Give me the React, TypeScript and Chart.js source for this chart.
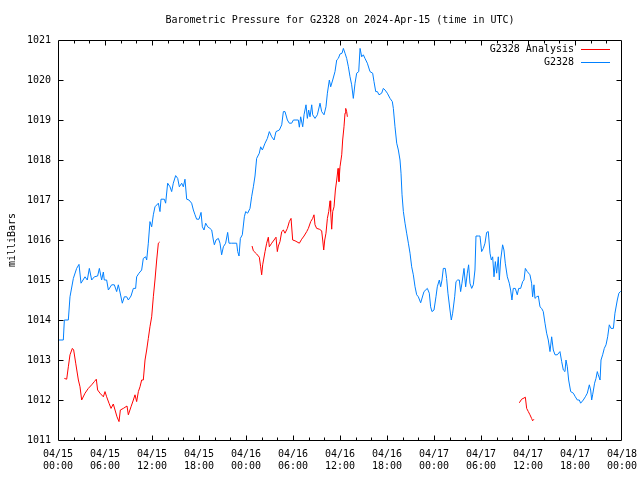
import React, { useEffect, useRef } from "react";
import { Chart, registerables } from "chart.js";

Chart.register(...registerables);

const TITLE = "Barometric Pressure for G2328 on 2024-Apr-15 (time in UTC)";
const Y_LABEL = "milliBars";
const SERIES_NAMES = ["G2328 Analysis", "G2328"];
const SERIES_COLORS = ["#ff0000", "#0080ff"];

// x tick labels (every 6 hours, 0..72 h from 2024-04-15 00:00 UTC)
const X_TICK_DATES = ["04/15", "04/15", "04/15", "04/15", "04/16", "04/16", "04/16", "04/16", "04/17", "04/17", "04/17", "04/17", "04/18"];
const X_TICK_TIMES = ["00:00", "06:00", "12:00", "18:00", "00:00", "06:00", "12:00", "18:00", "00:00", "06:00", "12:00", "18:00", "00:00"];
const X_MIN = 0;
const X_MAX = 72;
const Y_MIN = 1011;
const Y_MAX = 1021;

// [hours since 04/15 00:00, millibars]
const stationSeries: [number, number][] = [
  [0.0, 1013.5], [0.68, 1013.5], [0.81, 1014.0], [1.32, 1014.0], [1.53, 1014.58], [1.96, 1015.04], [2.38, 1015.29], [2.68, 1015.39],
  [2.94, 1014.92], [3.45, 1015.08], [3.74, 1015.0], [4.0, 1015.29], [4.3, 1015.0], [4.64, 1015.08], [5.06, 1015.1], [5.28, 1015.29],
  [5.57, 1015.0], [5.79, 1015.2], [5.91, 1015.0], [6.21, 1015.0], [6.43, 1014.75], [6.85, 1014.88], [7.19, 1014.88], [7.49, 1014.71],
  [7.7, 1014.88], [7.91, 1014.7], [8.21, 1014.42], [8.47, 1014.58], [8.77, 1014.58], [8.98, 1014.5], [9.32, 1014.6], [9.62, 1014.79],
  [9.91, 1014.79], [10.04, 1015.08], [10.34, 1015.17], [10.68, 1015.25], [10.89, 1015.54], [11.19, 1015.58], [11.32, 1015.5],
  [11.53, 1015.92], [11.74, 1016.46], [11.96, 1016.33], [12.17, 1016.63], [12.38, 1016.83], [12.81, 1016.92], [13.02, 1016.71],
  [13.15, 1017.02], [13.57, 1017.02], [13.74, 1016.92], [14.0, 1017.42], [14.3, 1017.33], [14.51, 1017.21], [14.72, 1017.42],
  [15.02, 1017.61], [15.28, 1017.54], [15.49, 1017.33], [15.79, 1017.42], [16.0, 1017.33], [16.21, 1017.52], [16.43, 1017.02],
  [16.72, 1017.0], [17.06, 1016.92], [17.28, 1016.75], [17.49, 1016.63], [17.7, 1016.52], [18.0, 1016.52], [18.26, 1016.69],
  [18.43, 1016.33], [18.64, 1016.25], [18.85, 1016.42], [19.11, 1016.33], [19.4, 1016.29], [19.62, 1016.25], [19.83, 1016.0],
  [19.96, 1015.88], [20.17, 1016.0], [20.47, 1016.04], [20.68, 1015.92], [20.89, 1015.63], [21.11, 1015.83], [21.4, 1015.92],
  [21.66, 1016.19], [21.83, 1015.92], [22.17, 1015.92], [22.81, 1015.92], [22.94, 1015.71], [23.11, 1015.6], [23.28, 1016.04],
  [23.53, 1016.13], [23.79, 1016.58], [23.96, 1016.71], [24.21, 1016.67], [24.51, 1016.79], [24.72, 1017.08], [24.94, 1017.33],
  [25.15, 1017.6], [25.36, 1018.04], [25.7, 1018.17], [25.87, 1018.33], [26.09, 1018.25], [26.43, 1018.42], [26.73, 1018.54],
  [26.98, 1018.71], [27.28, 1018.58], [27.58, 1018.5], [27.83, 1018.71], [28.26, 1018.75], [28.56, 1018.88], [28.77, 1019.21],
  [28.98, 1019.21], [29.28, 1019.0], [29.53, 1018.92], [29.83, 1018.92], [30.05, 1019.0], [30.68, 1019.0], [30.81, 1018.82],
  [30.98, 1019.08], [31.24, 1018.83], [31.41, 1019.13], [31.66, 1019.38], [31.83, 1019.04], [32.0, 1019.25], [32.17, 1019.08],
  [32.39, 1019.38], [32.51, 1019.13], [32.81, 1019.04], [33.11, 1019.13], [33.45, 1019.42], [33.66, 1019.21], [33.96, 1019.13],
  [34.21, 1019.33], [34.39, 1019.67], [34.64, 1020.0], [34.81, 1019.83], [35.07, 1020.0], [35.36, 1020.21], [35.58, 1020.5],
  [35.79, 1020.54], [36.0, 1020.65], [36.26, 1020.67], [36.43, 1020.79], [36.64, 1020.67], [36.85, 1020.54], [37.07, 1020.33],
  [37.28, 1020.08], [37.49, 1019.88], [37.7, 1019.54], [37.92, 1019.92], [38.13, 1020.17], [38.39, 1020.21], [38.56, 1020.79],
  [38.77, 1020.58], [38.98, 1020.63], [39.19, 1020.54], [39.49, 1020.42], [39.83, 1020.21], [40.17, 1020.17], [40.34, 1019.96],
  [40.56, 1019.71], [40.77, 1019.71], [40.98, 1019.63], [41.32, 1019.67], [41.53, 1019.79], [41.75, 1019.75], [42.04, 1019.67],
  [42.39, 1019.54], [42.68, 1019.46], [42.81, 1019.29], [43.02, 1018.83], [43.24, 1018.42], [43.45, 1018.25], [43.66, 1018.0],
  [43.79, 1017.67], [43.92, 1017.13], [44.09, 1016.71], [44.3, 1016.42], [44.51, 1016.17], [44.73, 1015.92], [44.94, 1015.67],
  [45.15, 1015.33], [45.36, 1015.13], [45.58, 1014.83], [45.79, 1014.63], [46.0, 1014.58], [46.3, 1014.43], [46.72, 1014.71],
  [47.15, 1014.79], [47.4, 1014.67], [47.57, 1014.33], [47.74, 1014.21], [48.0, 1014.25], [48.25, 1014.58], [48.42, 1014.83],
  [48.68, 1015.0], [48.85, 1014.83], [49.02, 1015.0], [49.19, 1015.29], [49.44, 1015.29], [49.61, 1015.04], [49.78, 1014.67],
  [50.04, 1014.25], [50.21, 1014.0], [50.38, 1014.17], [50.64, 1014.58], [50.81, 1014.96], [51.02, 1015.0], [51.23, 1015.0],
  [51.4, 1014.71], [51.57, 1014.92], [51.83, 1015.29], [52.04, 1014.83], [52.25, 1015.17], [52.42, 1015.38], [52.59, 1014.92],
  [52.81, 1014.79], [53.02, 1014.88], [53.23, 1015.25], [53.36, 1016.1], [53.66, 1016.1], [53.87, 1016.1], [54.08, 1015.71],
  [54.3, 1015.79], [54.51, 1015.92], [54.72, 1016.19], [54.93, 1016.21], [55.15, 1015.67], [55.32, 1015.5], [55.49, 1015.58],
  [55.66, 1015.08], [55.83, 1015.46], [56.0, 1015.17], [56.21, 1015.58], [56.34, 1015.0], [56.51, 1015.5], [56.76, 1015.88],
  [56.93, 1015.75], [57.1, 1015.42], [57.36, 1015.08], [57.61, 1014.92], [57.78, 1014.75], [57.95, 1014.5], [58.12, 1014.79],
  [58.38, 1014.79], [58.63, 1014.63], [58.81, 1014.79], [59.06, 1014.79], [59.32, 1014.96], [59.49, 1015.0], [59.66, 1015.29],
  [59.91, 1015.21], [60.25, 1015.13], [60.46, 1014.92], [60.59, 1014.58], [60.76, 1014.88], [60.89, 1014.54], [61.1, 1014.58],
  [61.32, 1014.6], [61.53, 1014.33], [61.74, 1014.29], [61.95, 1014.21], [62.17, 1013.92], [62.38, 1013.67], [62.59, 1013.5],
  [62.81, 1013.21], [63.02, 1013.58], [63.23, 1013.25], [63.45, 1013.13], [63.74, 1013.13], [64.08, 1013.21], [64.3, 1012.96],
  [64.51, 1012.75], [64.72, 1012.71], [64.85, 1013.0], [65.02, 1012.83], [65.19, 1012.5], [65.45, 1012.21], [65.79, 1012.17],
  [66.04, 1012.08], [66.3, 1012.0], [66.55, 1012.0], [66.72, 1011.92], [67.06, 1012.0], [67.32, 1012.08], [67.57, 1012.17],
  [67.83, 1012.38], [68.0, 1012.25], [68.13, 1012.0], [68.25, 1012.13], [68.5, 1012.42], [68.68, 1012.54], [68.85, 1012.71],
  [68.97, 1012.63], [69.2, 1012.5], [69.32, 1013.0], [69.53, 1013.13], [69.74, 1013.29], [69.96, 1013.38], [70.17, 1013.58],
  [70.38, 1013.88], [70.6, 1013.79], [70.9, 1013.79], [71.1, 1014.17], [71.4, 1014.5], [71.6, 1014.67], [71.8, 1014.71], [72.0, 1014.75],
];

// analysis series; null values break the line
const analysisSeries: [number, number | null][] = [
  [0.81, 1012.54], [1.11, 1012.52], [1.32, 1012.83], [1.53, 1013.13], [1.83, 1013.29], [2.0, 1013.25], [2.26, 1012.92], [2.6, 1012.5],
  [2.81, 1012.33], [3.02, 1012.0], [3.45, 1012.17], [3.87, 1012.29], [4.3, 1012.38], [4.64, 1012.46], [4.89, 1012.52], [5.06, 1012.25],
  [5.36, 1012.17], [5.79, 1012.08], [6.0, 1012.21], [6.21, 1012.08], [6.51, 1011.92], [6.77, 1011.79], [7.06, 1011.9], [7.28, 1011.75],
  [7.53, 1011.58], [7.79, 1011.46], [7.96, 1011.75], [8.34, 1011.79], [8.81, 1011.85], [8.98, 1011.63], [9.32, 1011.83], [9.62, 1012.0],
  [9.83, 1012.13], [10.04, 1011.96], [10.26, 1012.21], [10.47, 1012.33], [10.68, 1012.5], [10.89, 1012.5], [11.11, 1013.0],
  [11.32, 1013.25], [11.53, 1013.54], [11.74, 1013.83], [11.96, 1014.08], [12.17, 1014.58], [12.38, 1015.0], [12.6, 1015.5],
  [12.81, 1015.92], [12.98, 1015.95],
  [18.0, null],
  [24.77, 1015.85], [24.94, 1015.73], [25.36, 1015.65], [25.7, 1015.57], [25.87, 1015.33], [26.0, 1015.13], [26.13, 1015.38],
  [26.43, 1015.71], [26.64, 1015.92], [26.85, 1016.07], [26.98, 1015.83], [27.28, 1015.92], [27.58, 1016.0], [27.83, 1016.07],
  [28.0, 1015.71], [28.13, 1015.85], [28.34, 1015.96], [28.56, 1016.21], [28.77, 1016.25], [28.98, 1016.17], [29.28, 1016.29],
  [29.53, 1016.46], [29.75, 1016.54], [29.96, 1016.0], [30.26, 1015.98], [30.81, 1015.92], [31.11, 1016.02], [31.41, 1016.1],
  [31.75, 1016.21], [31.96, 1016.29], [32.26, 1016.46], [32.51, 1016.54], [32.68, 1016.63], [32.81, 1016.38], [33.02, 1016.29],
  [33.36, 1016.27], [33.66, 1016.23], [33.79, 1016.0], [33.92, 1015.75], [34.05, 1016.0], [34.21, 1016.17], [34.39, 1016.54],
  [34.56, 1016.71], [34.73, 1016.98], [34.81, 1016.71], [34.94, 1016.27], [35.07, 1016.71], [35.24, 1016.83], [35.41, 1017.25],
  [35.58, 1017.5], [35.75, 1017.79], [35.87, 1017.46], [36.0, 1017.83], [36.22, 1018.13], [36.34, 1018.5], [36.51, 1018.83],
  [36.64, 1019.17], [36.73, 1019.29], [36.85, 1019.21], [36.94, 1019.08],
  [48.0, null],
  [58.89, 1011.93], [59.19, 1012.02], [59.49, 1012.05], [59.66, 1012.07], [59.83, 1011.79], [60.04, 1011.71], [60.25, 1011.63],
  [60.46, 1011.54], [60.59, 1011.48], [60.76, 1011.52],
];

const FONT_FAMILY = "'DejaVu Sans Mono', monospace";

const framePlugin = {
  id: "gnuplotFrame",
  afterDatasetsDraw(chart: any) {
    const { ctx, chartArea, scales } = chart;
    const { left, right, top, bottom } = chartArea;
    const xs = scales.x;
    const ys = scales.y;
    ctx.save();
    ctx.strokeStyle = "#000";
    ctx.lineWidth = 1;
    ctx.beginPath();
    // frame
    ctx.moveTo(left + 0.5, top + 0.5);
    ctx.lineTo(right - 0.5, top + 0.5);
    ctx.lineTo(right - 0.5, bottom + 0.5);
    ctx.lineTo(left + 0.5, bottom + 0.5);
    ctx.closePath();
    // x ticks (inward), minor every 2 h, major every 6 h
    for (let h = X_MIN + 2; h < X_MAX; h += 2) {
      const px = Math.round(xs.getPixelForValue(h)) + 0.5;
      const len = h % 6 === 0 ? 5 : 3;
      ctx.moveTo(px, bottom + 0.5);
      ctx.lineTo(px, bottom + 0.5 - len);
      ctx.moveTo(px, top + 0.5);
      ctx.lineTo(px, top + 0.5 + len);
    }
    // y ticks (inward) both sides
    for (let v = Y_MIN + 1; v < Y_MAX; v += 1) {
      const py = Math.round(ys.getPixelForValue(v)) + 0.5;
      ctx.moveTo(left + 0.5, py);
      ctx.lineTo(left + 5.5, py);
      ctx.moveTo(right - 0.5, py);
      ctx.lineTo(right - 5.5, py);
    }
    ctx.stroke();

    // legend (text right-aligned, line sample to the right)
    ctx.font = `10px ${FONT_FAMILY}`;
    ctx.textAlign = "right";
    ctx.textBaseline = "middle";
    ctx.fillStyle = "#000";
    chart.data.datasets.forEach((ds: any, i: number) => {
      const yy = top + 9.5 + i * 13;
      ctx.fillText(ds.label, right - 48, yy);
      ctx.beginPath();
      ctx.strokeStyle = ds.borderColor;
      ctx.moveTo(right - 41, yy);
      ctx.lineTo(right - 12, yy);
      ctx.stroke();
    });
    ctx.restore();
  },
};

export default function App() {
  const canvasRef = useRef<HTMLCanvasElement | null>(null);

  useEffect(() => {
    if (!canvasRef.current) return;
    Chart.defaults.font.family = FONT_FAMILY;
    Chart.defaults.font.size = 10;
    Chart.defaults.color = "#000";

    const chart = new Chart(canvasRef.current, {
      type: "line",
      data: {
        datasets: [
          {
            label: SERIES_NAMES[0],
            data: analysisSeries.map(([x, y]) => ({ x, y })),
            borderColor: SERIES_COLORS[0],
            backgroundColor: SERIES_COLORS[0],
            borderWidth: 1,
            pointRadius: 0,
            tension: 0,
            spanGaps: false,
          },
          {
            label: SERIES_NAMES[1],
            data: stationSeries.map(([x, y]) => ({ x, y })),
            borderColor: SERIES_COLORS[1],
            backgroundColor: SERIES_COLORS[1],
            borderWidth: 1,
            pointRadius: 0,
            tension: 0,
          },
        ],
      },
      plugins: [framePlugin],
      options: {
        animation: false,
        responsive: false,
        events: [],
        layout: { padding: { left: 0, right: 18, top: 0, bottom: 0 } },
        plugins: {
          legend: { display: false },
          tooltip: { enabled: false },
          title: {
            display: true,
            text: TITLE,
            fullSize: false,
            color: "#000",
            font: { family: FONT_FAMILY, size: 10, weight: "normal" },
            padding: { top: 14, bottom: 14 },
          },
        },
        scales: {
          x: {
            type: "linear",
            min: X_MIN,
            max: X_MAX,
            grid: { display: false, drawTicks: false },
            border: { display: false },
            ticks: {
              stepSize: 6,
              autoSkip: false,
              maxRotation: 0,
              minRotation: 0,
              padding: 8,
              color: "#000",
              font: { family: FONT_FAMILY, size: 10 },
              callback: (value: any) => {
                const i = Math.round(Number(value) / 6);
                return [X_TICK_DATES[i], X_TICK_TIMES[i]];
              },
            },
            afterFit: (scale: any) => {
              scale.height = 40;
              scale.paddingLeft = 0;
              scale.paddingRight = 0;
            },
          },
          y: {
            type: "linear",
            min: Y_MIN,
            max: Y_MAX,
            grid: { display: false, drawTicks: false },
            border: { display: false },
            ticks: {
              stepSize: 1,
              padding: 7,
              color: "#000",
              font: { family: FONT_FAMILY, size: 10 },
              callback: (value: any) => String(value),
            },
            title: {
              display: true,
              text: Y_LABEL,
              color: "#000",
              font: { family: FONT_FAMILY, size: 10 },
              padding: { top: 6, bottom: 0 },
            },
            afterFit: (scale: any) => {
              scale.width = 58;
              scale.paddingTop = 0;
              scale.paddingBottom = 0;
            },
          },
        },
      },
    });
    return () => chart.destroy();
  }, []);

  return (
    <div style={{ position: "absolute", left: 0, top: 0, width: 640, height: 480, background: "#fff" }}>
      <canvas ref={canvasRef} width={640} height={480} style={{ display: "block" }} />
    </div>
  );
}
